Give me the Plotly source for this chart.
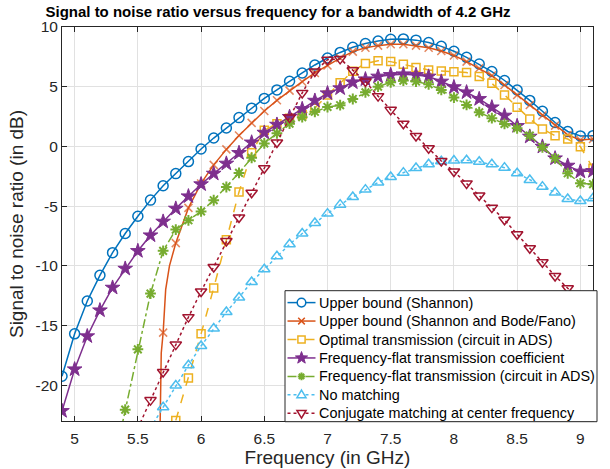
import math
import plotly.graph_objects as go

# ---------------- data ----------------
freq_ghz = [4.9, 5.0, 5.1, 5.2, 5.3, 5.4, 5.5, 5.6, 5.7, 5.8, 5.9, 6.0, 6.1, 6.2,
            6.3, 6.4, 6.5, 6.6, 6.7, 6.8, 6.9, 7.0, 7.1, 7.2, 7.3, 7.4, 7.5, 7.6,
            7.7, 7.8, 7.9, 8.0, 8.1, 8.2, 8.3, 8.4, 8.5, 8.6, 8.7, 8.8, 8.9, 9.0, 9.1]

shannon_db = [-19.25, -15.7, -12.95, -10.8, -8.9, -7.3, -5.85, -4.5, -3.3, -2.28,
              -1.27, -0.22, 0.7, 1.54, 2.41, 3.2, 4.02, 4.73, 5.46, 6.15, 6.82,
              7.4, 7.87, 8.3, 8.62, 8.83, 8.97, 9.0, 8.9, 8.7, 8.38, 7.97, 7.46,
              6.9, 6.27, 5.52, 4.72, 3.85, 2.94, 2.0, 1.25, 0.88, 0.9]

# starts at 5.7 GHz
bode_fano_db = [-15.6, -8.1, -5.15, -3.1, -1.55, -0.25, 0.92, 1.97, 2.96, 3.86,
                4.67, 5.42, 6.15, 6.78, 7.4, 7.94, 8.27, 8.44, 8.55, 8.55, 8.44,
                8.27, 7.99, 7.62, 7.1, 6.54, 5.93, 5.14, 4.3, 3.47, 2.58, 1.74,
                0.96, 0.54, 0.62]
# extra points of the smooth curve near its steep lower end (no markers there)
bode_fano_tail_freq = [5.672, 5.676, 5.68, 5.685, 5.72, 5.75]
bode_fano_tail_db = [-26.0, -22.0, -20.0, -17.3, -12.0, -10.0]

# starts at 5.8 GHz
optimal_ads_db = [-22.95, -19.4, -15.7, -11.86, -7.81, -3.82, -0.53, 1.35, 1.9,
                  2.35, 2.65, 3.2, 4.3, 5.33, 6.3, 6.95, 7.17, 7.1, 6.88, 6.6,
                  6.4, 6.32, 6.26, 6.18, 5.85, 5.28, 4.31, 3.28, 2.3, 1.46, 0.9,
                  0.62, -0.02, -1.83]

# starts at 4.9 GHz
flat_coeff_db = [-22.16, -18.67, -15.9, -13.73, -11.83, -10.24, -8.76, -7.45, -6.3,
                 -5.21, -4.18, -3.17, -2.28, -1.44, -0.55, 0.33, 1.15, 1.82, 2.47,
                 3.13, 3.83, 4.45, 4.87, 5.37, 5.62, 5.85, 5.98, 6.04, 5.98, 5.85,
                 5.43, 4.96, 4.53, 3.97, 3.27, 2.58, 1.71, 0.82, -0.02, -1.0,
                 -1.61, -2.11, -2.06]

# starts at 5.3 GHz
flat_ads_db = [-27.0, -22.05, -17.0, -12.33, -8.75, -6.97, -6.19, -5.45, -4.51,
               -3.4, -2.22, -0.96, 0.25, 1.1, 1.9, 2.45, 2.9, 3.3, 3.45, 3.97,
               4.53, 5.0, 5.37, 5.51, 5.43, 5.2, 4.73, 4.09, 3.47, 2.86, 2.36,
               1.88, 1.52, 0.9, -0.07, -1.0, -2.25, -3.09, -3.17]

# starts at 5.6 GHz
no_match_db = [-23.6, -21.85, -20.03, -18.33, -16.72, -15.26, -13.87, -12.65,
               -11.36, -10.29, -9.2, -8.2, -7.3, -6.41, -5.63, -4.88, -4.24,
               -3.62, -3.03, -2.56, -2.2, -1.81, -1.5, -1.25, -1.19, -1.16,
               -1.28, -1.5, -1.78, -2.25, -2.81, -3.37, -3.87, -4.41, -4.57, -4.35]

# starts at 5.5 GHz
conjugate_db = [-23.6, -21.25, -18.9, -16.6, -14.3, -12.15, -10.1, -7.92, -5.96,
                -3.88, -1.83, 0.32, 2.41, 4.48, 6.27, 7.26, 7.33, 6.38, 5.44, 4.21,
                3.06, 1.9, 0.87, -0.15, -1.22, -2.1, -3.1, -4.11, -5.13, -6.15,
                -7.36, -8.53, -9.71, -10.85, -11.88, -12.9, -13.9]

series_names = ["Upper bound (Shannon)",
                "Upper bound (Shannon and Bode/Fano)",
                "Optimal transmission (circuit in ADS)",
                "Frequency-flat transmission coefficient",
                "Frequency-flat transmission (circuit in ADS)",
                "No matching",
                "Conjugate matching at center frequency"]

x_tick_vals = [5, 5.5, 6, 6.5, 7, 7.5, 8, 8.5, 9]
x_tick_text = ["5", "5.5", "6", "6.5", "7", "7.5", "8", "8.5", "9"]
y_tick_vals = [-20, -15, -10, -5, 0, 5, 10]
y_tick_text = ["-20", "-15", "-10", "-5", "0", "5", "10"]

title_text = "Signal to noise ratio versus frequency for a bandwidth of 4.2 GHz"
x_title = "Frequency (in GHz)"
y_title = "Signal to noise ratio (in dB)"


def from_freq(start):
    return freq_ghz[freq_ghz.index(start):]


# ---------------- figure ----------------
W, H = 610, 469
ML, MR, MT, MB = 62, 17, 27, 48
PW, PH = W - ML - MR, H - MT - MB

FONT = "Liberation Sans, Arial, Helvetica, sans-serif"
TXT = "#262626"
BLUE, ORANGE, YELLOW = "#0072BD", "#D95319", "#EDB120"
PURPLE, GREEN, CYAN, DRED = "#7E2F8E", "#77AC30", "#4DBEEE", "#A2142F"
colors = [BLUE, ORANGE, YELLOW, PURPLE, GREEN, CYAN, DRED]
dashes = ["solid", "solid", "dash", "solid", "dashdot", "dot", "dot"]

fig = go.Figure()

fig.add_trace(go.Scatter(
    x=freq_ghz, y=shannon_db, name=series_names[0], mode="lines+markers",
    line=dict(color=BLUE, width=1.5),
    marker=dict(symbol="circle-open", size=10, color=BLUE,
                line=dict(width=1.5, color=BLUE))))

bf_freq = from_freq(5.7)
pairs = sorted([(f, v, True) for f, v in zip(bf_freq, bode_fano_db)] +
               [(f, v, False) for f, v in zip(bode_fano_tail_freq, bode_fano_tail_db)])
fig.add_trace(go.Scatter(
    x=[p[0] for p in pairs], y=[p[1] for p in pairs], name=series_names[1],
    mode="lines+markers",
    line=dict(color=ORANGE, width=1.5),
    marker=dict(symbol="x-thin-open", size=[8 if p[2] else 0 for p in pairs],
                color=ORANGE, line=dict(width=1.5, color=ORANGE))))

fig.add_trace(go.Scatter(
    x=from_freq(5.8), y=optimal_ads_db, name=series_names[2], mode="lines+markers",
    line=dict(color=YELLOW, width=1.5, dash="dash"),
    marker=dict(symbol="square-open", size=8, color=YELLOW,
                line=dict(width=1.5, color=YELLOW))))

fig.add_trace(go.Scatter(
    x=freq_ghz, y=flat_coeff_db, name=series_names[3], mode="lines+markers",
    line=dict(color=PURPLE, width=1.5),
    marker=dict(symbol="star", size=11, color=PURPLE,
                line=dict(width=1, color=PURPLE))))

fig.add_trace(go.Scatter(
    x=from_freq(5.3), y=flat_ads_db, name=series_names[4], mode="lines+markers",
    line=dict(color=GREEN, width=1.5, dash="dashdot"),
    marker=dict(symbol="asterisk-open", size=9, color=GREEN,
                line=dict(width=2, color=GREEN))))

fig.add_trace(go.Scatter(
    x=from_freq(5.6), y=no_match_db, name=series_names[5], mode="lines+markers",
    line=dict(color=CYAN, width=1.5, dash="dot"),
    marker=dict(symbol="triangle-up-open", size=10, color=CYAN,
                line=dict(width=1.5, color=CYAN))))

fig.add_trace(go.Scatter(
    x=from_freq(5.5), y=conjugate_db, name=series_names[6], mode="lines+markers",
    line=dict(color=DRED, width=1.5, dash="dot"),
    marker=dict(symbol="triangle-down-open", size=10, color=DRED,
                line=dict(width=1.5, color=DRED))))

axis_common = dict(
    showgrid=True, gridcolor="#e1e1e1", gridwidth=1,
    showline=True, linecolor=TXT, linewidth=1, mirror="ticks",
    ticks="inside", ticklen=5, tickcolor=TXT, tickwidth=1,
    zeroline=False, automargin=False,
    tickfont=dict(family=FONT, size=15.5, color=TXT),
    title_font=dict(family=FONT, size=19, color=TXT),
)

fig.update_xaxes(range=[4.9, 9.1], tickmode="array", tickvals=x_tick_vals,
                 ticktext=x_tick_text, title_text=x_title, title_standoff=1,
                 ticklabelstandoff=3, **axis_common)
fig.update_yaxes(range=[-23, 10], tickmode="array", tickvals=y_tick_vals,
                 ticktext=y_tick_text, title_text=y_title, title_standoff=6,
                 **axis_common)


# ---------------- MATLAB-like legend drawn with shapes + annotations ----------------
def px(xp):
    return (xp - ML) / PW


def py(yp):
    return (MT + PH - yp) / PH


def path(points, close=False):
    s = " ".join(("M" if i == 0 else "L") + f"{px(a):.5f},{py(b):.5f}"
                 for i, (a, b) in enumerate(points))
    return s + (" Z" if close else "")


shapes = [dict(type="rect", xref="paper", yref="paper", layer="above",
               x0=px(285), x1=px(597), y0=py(421.7), y1=py(290.7),
               fillcolor="white", line=dict(color=TXT, width=1))]
annotations = []
row0, drow = 302.6, 18.45
lx0, lx1, mx, tx = 287.5, 315.5, 301.5, 317.0
for i, name in enumerate(series_names):
    cy = row0 + i * drow
    c = colors[i]
    shapes.append(dict(type="line", xref="paper", yref="paper", layer="above",
                       x0=px(lx0), x1=px(lx1), y0=py(cy), y1=py(cy),
                       line=dict(color=c, width=1.5, dash=dashes[i])))
    if i == 0:      # open circle
        r = 4.3
        shapes.append(dict(type="circle", xref="paper", yref="paper", layer="above",
                           x0=px(mx - r), x1=px(mx + r), y0=py(cy + r), y1=py(cy - r),
                           fillcolor="white", line=dict(color=c, width=1.5)))
    elif i == 1:    # x
        r = 3.3
        p = (path([(mx - r, cy - r), (mx + r, cy + r)]) + " " +
             path([(mx - r, cy + r), (mx + r, cy - r)]))
        shapes.append(dict(type="path", xref="paper", yref="paper", layer="above",
                           path=p, line=dict(color=c, width=1.5)))
    elif i == 2:    # open square
        r = 3.6
        shapes.append(dict(type="rect", xref="paper", yref="paper", layer="above",
                           x0=px(mx - r), x1=px(mx + r), y0=py(cy + r), y1=py(cy - r),
                           fillcolor="white", line=dict(color=c, width=1.5)))
    elif i == 3:    # filled star
        ro, ri = 6.4, 2.6
        pts = []
        for k in range(10):
            ang = math.pi / 2 + k * math.pi / 5
            rr = ro if k % 2 == 0 else ri
            pts.append((mx + rr * math.cos(ang), cy - rr * math.sin(ang)))
        shapes.append(dict(type="path", xref="paper", yref="paper", layer="above",
                           path=path(pts, close=True), fillcolor=c,
                           line=dict(color=c, width=1)))
    elif i == 4:    # asterisk
        r = 3.8
        segs = []
        for k in range(4):
            ang = k * math.pi / 4
            dx, dy = r * math.cos(ang), r * math.sin(ang)
            segs.append(path([(mx - dx, cy - dy), (mx + dx, cy + dy)]))
        shapes.append(dict(type="path", xref="paper", yref="paper", layer="above",
                           path=" ".join(segs), line=dict(color=c, width=2)))
    elif i == 5:    # open triangle up
        r = 4.8
        pts = [(mx, cy - r), (mx + r * 0.95, cy + r * 0.6), (mx - r * 0.95, cy + r * 0.6)]
        shapes.append(dict(type="path", xref="paper", yref="paper", layer="above",
                           path=path(pts, close=True), fillcolor="white",
                           line=dict(color=c, width=1.5)))
    else:           # open triangle down
        r = 4.8
        pts = [(mx, cy + r), (mx + r * 0.95, cy - r * 0.6), (mx - r * 0.95, cy - r * 0.6)]
        shapes.append(dict(type="path", xref="paper", yref="paper", layer="above",
                           path=path(pts, close=True), fillcolor="white",
                           line=dict(color=c, width=1.5)))
    annotations.append(dict(text=name, xref="paper", yref="paper",
                            x=px(tx), y=py(cy), xanchor="left", yanchor="middle",
                            showarrow=False,
                            font=dict(family=FONT, size=14.4, color="black")))

fig.update_layout(
    width=W, height=H,
    margin=dict(l=ML, r=MR, t=MT, b=MB, autoexpand=False),
    paper_bgcolor="white", plot_bgcolor="white",
    font=dict(family=FONT, size=14, color=TXT),
    title=dict(text=title_text, x=px(278), xref="paper", xanchor="center",
               y=1 - 12.0 / H, yref="container", yanchor="middle",
               font=dict(family=FONT, size=15.0, color="black", weight="bold")),
    showlegend=False,
    shapes=shapes,
    annotations=annotations,
)

# remove the browser's default 8px page margin so the figure fills the window
fig.write_html("out.html",
               config={"displayModeBar": False},
               post_script="document.body.style.margin='0px';"
                           "document.body.style.padding='0px';")
